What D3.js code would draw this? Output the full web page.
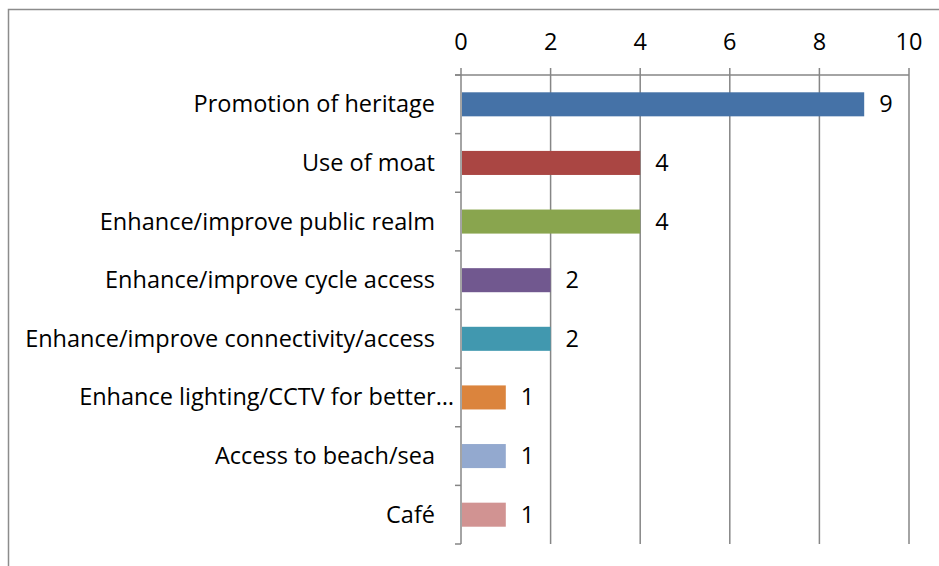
<!DOCTYPE html>
<html><head><meta charset="utf-8">
<script src="https://cdn.jsdelivr.net/npm/d3@7/dist/d3.min.js"></script>
<style>body{margin:0;background:#fff}svg{display:block}text{font-family:"Open Sans",sans-serif;fill:#000}</style>
</head><body>
<svg id="c" width="939" height="566"></svg>
<script>
const categories = ["Promotion of heritage","Use of moat","Enhance/improve public realm","Enhance/improve cycle access","Enhance/improve connectivity/access","Enhance lighting/CCTV for better…","Access to beach/sea","Café"];
const values = [9,4,4,2,2,1,1,1];
const colors = ["#4572A7","#AA4643","#89A54E","#71588F","#4198AF","#DB843D","#93A9CF","#D19392"];
const ticks = [0,2,4,6,8,10];

const svg = d3.select("#c");
const grid = "#868686";
const fs = 23.5;
svg.append("path").attr("d","M8.5,566 V9.5 H939").attr("fill","none").attr("stroke","#8c8c8c").attr("stroke-width",1.5);

const x = d3.scaleLinear().domain([0,10]).range([461,909]);
const y = d3.scaleBand().domain(categories).range([75,544]).paddingInner(0.59).paddingOuter(0.295);
const yb = d3.scaleBand().domain(categories).range([75,544]);

svg.append("g").selectAll("line").data(ticks).join("line")
  .attr("x1",d=>x(d)).attr("x2",d=>x(d)).attr("y1",68).attr("y2",544)
  .attr("stroke",grid).attr("stroke-width",1.5);
svg.append("line").attr("x1",455).attr("x2",x(10)).attr("y1",75).attr("y2",75).attr("stroke",grid).attr("stroke-width",1.5);
const cb = categories.map(c=>yb(c)+yb.bandwidth()).concat([75]);
svg.append("g").selectAll("line").data(cb).join("line")
  .attr("x1",455).attr("x2",x(0)).attr("y1",d=>d).attr("y2",d=>d).attr("stroke",grid).attr("stroke-width",1.5);
svg.append("g").selectAll("text").data(ticks).join("text")
  .attr("x",d=>x(d)).attr("y",50).attr("text-anchor","middle").attr("font-size",fs).text(d=>d);
svg.append("g").selectAll("rect").data(values).join("rect")
  .attr("x",x(0)+1).attr("y",(d,i)=>y(categories[i])).attr("height",y.bandwidth())
  .attr("width",d=>x(d)-x(0)-1).attr("fill",(d,i)=>colors[i]);
svg.append("g").selectAll("text").data(values).join("text")
  .attr("x",d=>x(d)+15).attr("y",(d,i)=>y(categories[i])+y.bandwidth()/2+8)
  .attr("font-size",fs).text(d=>d);
svg.append("g").selectAll("text").data(categories).join("text")
  .attr("x",c=>c.endsWith("…")?454:435).attr("y",c=>yb(c)+yb.bandwidth()/2+8).attr("text-anchor","end")
  .attr("font-size",fs).text(c=>c);
</script></body></html>
